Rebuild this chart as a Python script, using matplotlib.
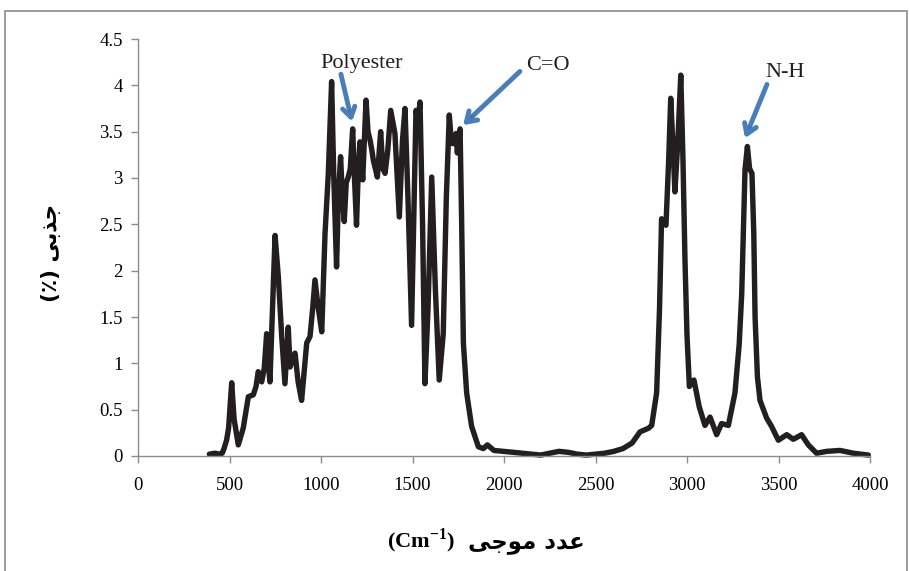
import matplotlib
matplotlib.use("Agg")
import matplotlib.pyplot as plt
from matplotlib.patches import Rectangle
import matplotlib.patheffects as pe

# ---- data ----
wavenumber = [390, 420, 445, 460, 470, 484, 495, 512, 525, 548, 575, 603, 630, 645, 657, 676,
              690, 703, 712, 721, 735, 749, 767, 785, 803, 821, 831, 845, 858, 875, 894, 910,
              922, 940, 955, 967, 985, 1004, 1022, 1040, 1058, 1070, 1085, 1095, 1107, 1117,
              1127, 1138, 1149, 1160, 1173, 1183, 1194, 1204, 1213, 1228, 1246, 1257, 1268,
              1278, 1286, 1297, 1308, 1326, 1338, 1350, 1365, 1381, 1404, 1428, 1445, 1459,
              1475, 1495, 1507, 1519, 1530, 1541, 1555, 1568, 1585, 1605, 1625, 1646, 1668,
              1685, 1701, 1710, 1720, 1738, 1745, 1760, 1768, 1778, 1796, 1823, 1860, 1887,
              1909, 1945, 2000, 2050, 2100, 2150, 2200, 2250, 2300, 2350, 2400, 2450, 2500,
              2550, 2600, 2650, 2700, 2743, 2790, 2807, 2834, 2850, 2861, 2885, 2900, 2911,
              2922, 2934, 2950, 2966, 2978, 2989, 3000, 3013, 3038, 3067, 3098, 3126, 3162,
              3189, 3226, 3262, 3285, 3299, 3317, 3330, 3342, 3355, 3365, 3372, 3385, 3399,
              3435, 3462, 3499, 3545, 3581, 3626, 3663, 3708, 3763, 3836, 3909, 3991]
absorbance = [0.02, 0.03, 0.02, 0.03, 0.08, 0.17, 0.30, 0.79, 0.40, 0.12, 0.30, 0.64, 0.66, 0.75,
              0.91, 0.80, 0.95, 1.32, 1.00, 0.80, 1.60, 2.38, 1.93, 1.30, 0.78, 1.39, 0.96, 1.05,
              1.11, 0.80, 0.60, 0.95, 1.22, 1.29, 1.60, 1.90, 1.60, 1.34, 2.40, 3.05, 4.04, 3.00,
              2.04, 2.80, 3.23, 2.80, 2.53, 2.95, 3.01, 3.10, 3.53, 3.00, 2.49, 3.10, 3.39, 2.98,
              3.84, 3.50, 3.41, 3.30, 3.19, 3.10, 3.01, 3.50, 3.10, 3.05, 3.30, 3.73, 3.48, 2.58,
              3.40, 3.75, 2.80, 1.41, 2.60, 3.73, 3.60, 3.82, 2.50, 0.78, 1.60, 3.01, 1.80, 0.82,
              1.32, 2.80, 3.68, 3.45, 3.37, 3.48, 3.27, 3.53, 2.60, 1.22, 0.68, 0.32, 0.10, 0.08,
              0.12, 0.06, 0.05, 0.04, 0.03, 0.02, 0.01, 0.03, 0.05, 0.04, 0.02, 0.01, 0.02,
              0.03, 0.05, 0.08, 0.14, 0.26, 0.30, 0.33, 0.68, 1.60, 2.56, 2.49, 3.20, 3.86,
              3.40, 2.85, 3.40, 4.11, 3.20, 2.11, 1.30, 0.75, 0.82, 0.53, 0.33, 0.42, 0.23,
              0.35, 0.33, 0.68, 1.20, 1.75, 3.09, 3.34, 3.10, 3.05, 2.40, 1.50, 0.85, 0.60,
              0.41, 0.32, 0.17, 0.23, 0.18, 0.23, 0.12, 0.03, 0.05, 0.06, 0.03, 0.01]

x_ticks = [0, 500, 1000, 1500, 2000, 2500, 3000, 3500, 4000]
y_ticks = [0, 0.5, 1, 1.5, 2, 2.5, 3, 3.5, 4, 4.5]
y_tick_labels = ["0", "0.5", "1", "1.5", "2", "2.5", "3", "3.5", "4", "4.5"]

# Persian labels (pre-shaped, visual order)
ylabel_txt = "(\u066A) \uFBFD\uFE91\uFEAC\uFE9F"           # جذبی (٪)
xlabel_ar = "\uFBFD\uFE9F\uFEEE\uFEE3 \uFEA9\uFEAA\uFECB"   # عدد موجی
xlabel_unit = "(Cm$^{\\mathbf{-1}}$)"

annotations = [("Polyester", (1169, 3.61), (1109, 4.12), (1224, 4.24)),
               ("C=O", (1776, 3.57), (2087, 4.15), (2240, 4.21)),
               ("N-H", (3317, 3.43), (3437, 4.01), (3536, 4.14))]

serif = ["Liberation Serif", "DejaVu Serif"]

plt.rcParams["mathtext.fontset"] = "custom"
plt.rcParams["mathtext.rm"] = "Liberation Serif"
plt.rcParams["mathtext.bf"] = "Liberation Serif:bold"

fig = plt.figure(figsize=(9.09, 5.71), dpi=100)
fig.patches.append(Rectangle((5 / 909, -0.1), 902 / 909, 1.1 - 11 / 571,
                             transform=fig.transFigure, fill=False,
                             edgecolor="#8c8c8c", linewidth=1.2))
ax = fig.add_axes([138 / 909, 1 - 456 / 571, (870 - 138) / 909, (456 - 39) / 571])

ax.plot(wavenumber, absorbance, color="#231f20", linewidth=3.9,
        solid_joinstyle="round", solid_capstyle="round", clip_on=False)

ax.set_xlim(0, 4000)
ax.set_ylim(0, 4.5)
ax.set_xticks(x_ticks)
ax.set_xticklabels([str(v) for v in x_ticks], fontfamily=serif, fontsize=13.5)
ax.set_yticks(y_ticks)
ax.set_yticklabels(y_tick_labels, fontfamily=serif, fontsize=13.5)
for s in ["top", "right"]:
    ax.spines[s].set_visible(False)
for s in ["left", "bottom"]:
    ax.spines[s].set_color("#8c8c8c")
    ax.spines[s].set_linewidth(1.0)
ax.tick_params(axis="both", colors="#8c8c8c", labelcolor="black", length=5, width=1.0)
ax.tick_params(axis="x", pad=10)
ax.tick_params(axis="y", pad=6)

fig.text(51 / 909, 1 - 253 / 571, ylabel_txt, rotation=90, ha="center", va="center",
         fontsize=15.5, fontweight="bold", family=["DejaVu Sans"])
fig.text(455 / 909, 1 - 541 / 571, xlabel_unit, ha="right", va="center",
         fontsize=16, fontweight="bold", family=serif)
fig.text(468 / 909, 1 - 543 / 571, xlabel_ar, ha="left", va="center",
         fontsize=16.5, fontweight="bold", family=["DejaVu Sans"])

shadow = [pe.SimplePatchShadow(offset=(1.5, -1.5), alpha=0.25), pe.Normal()]
for label, tip, tail, tpos in annotations:
    ax.annotate("", xy=tip, xytext=tail,
                arrowprops=dict(arrowstyle="->,head_length=0.7,head_width=0.45",
                                color="#4a7ebb", lw=3.5, shrinkA=0, shrinkB=0,
                                path_effects=shadow),
                annotation_clip=False)
    ax.text(tpos[0], tpos[1], label, ha="center", va="center", fontsize=16,
            family=serif, color="#231f20")

fig.savefig("out.png", dpi=100)
